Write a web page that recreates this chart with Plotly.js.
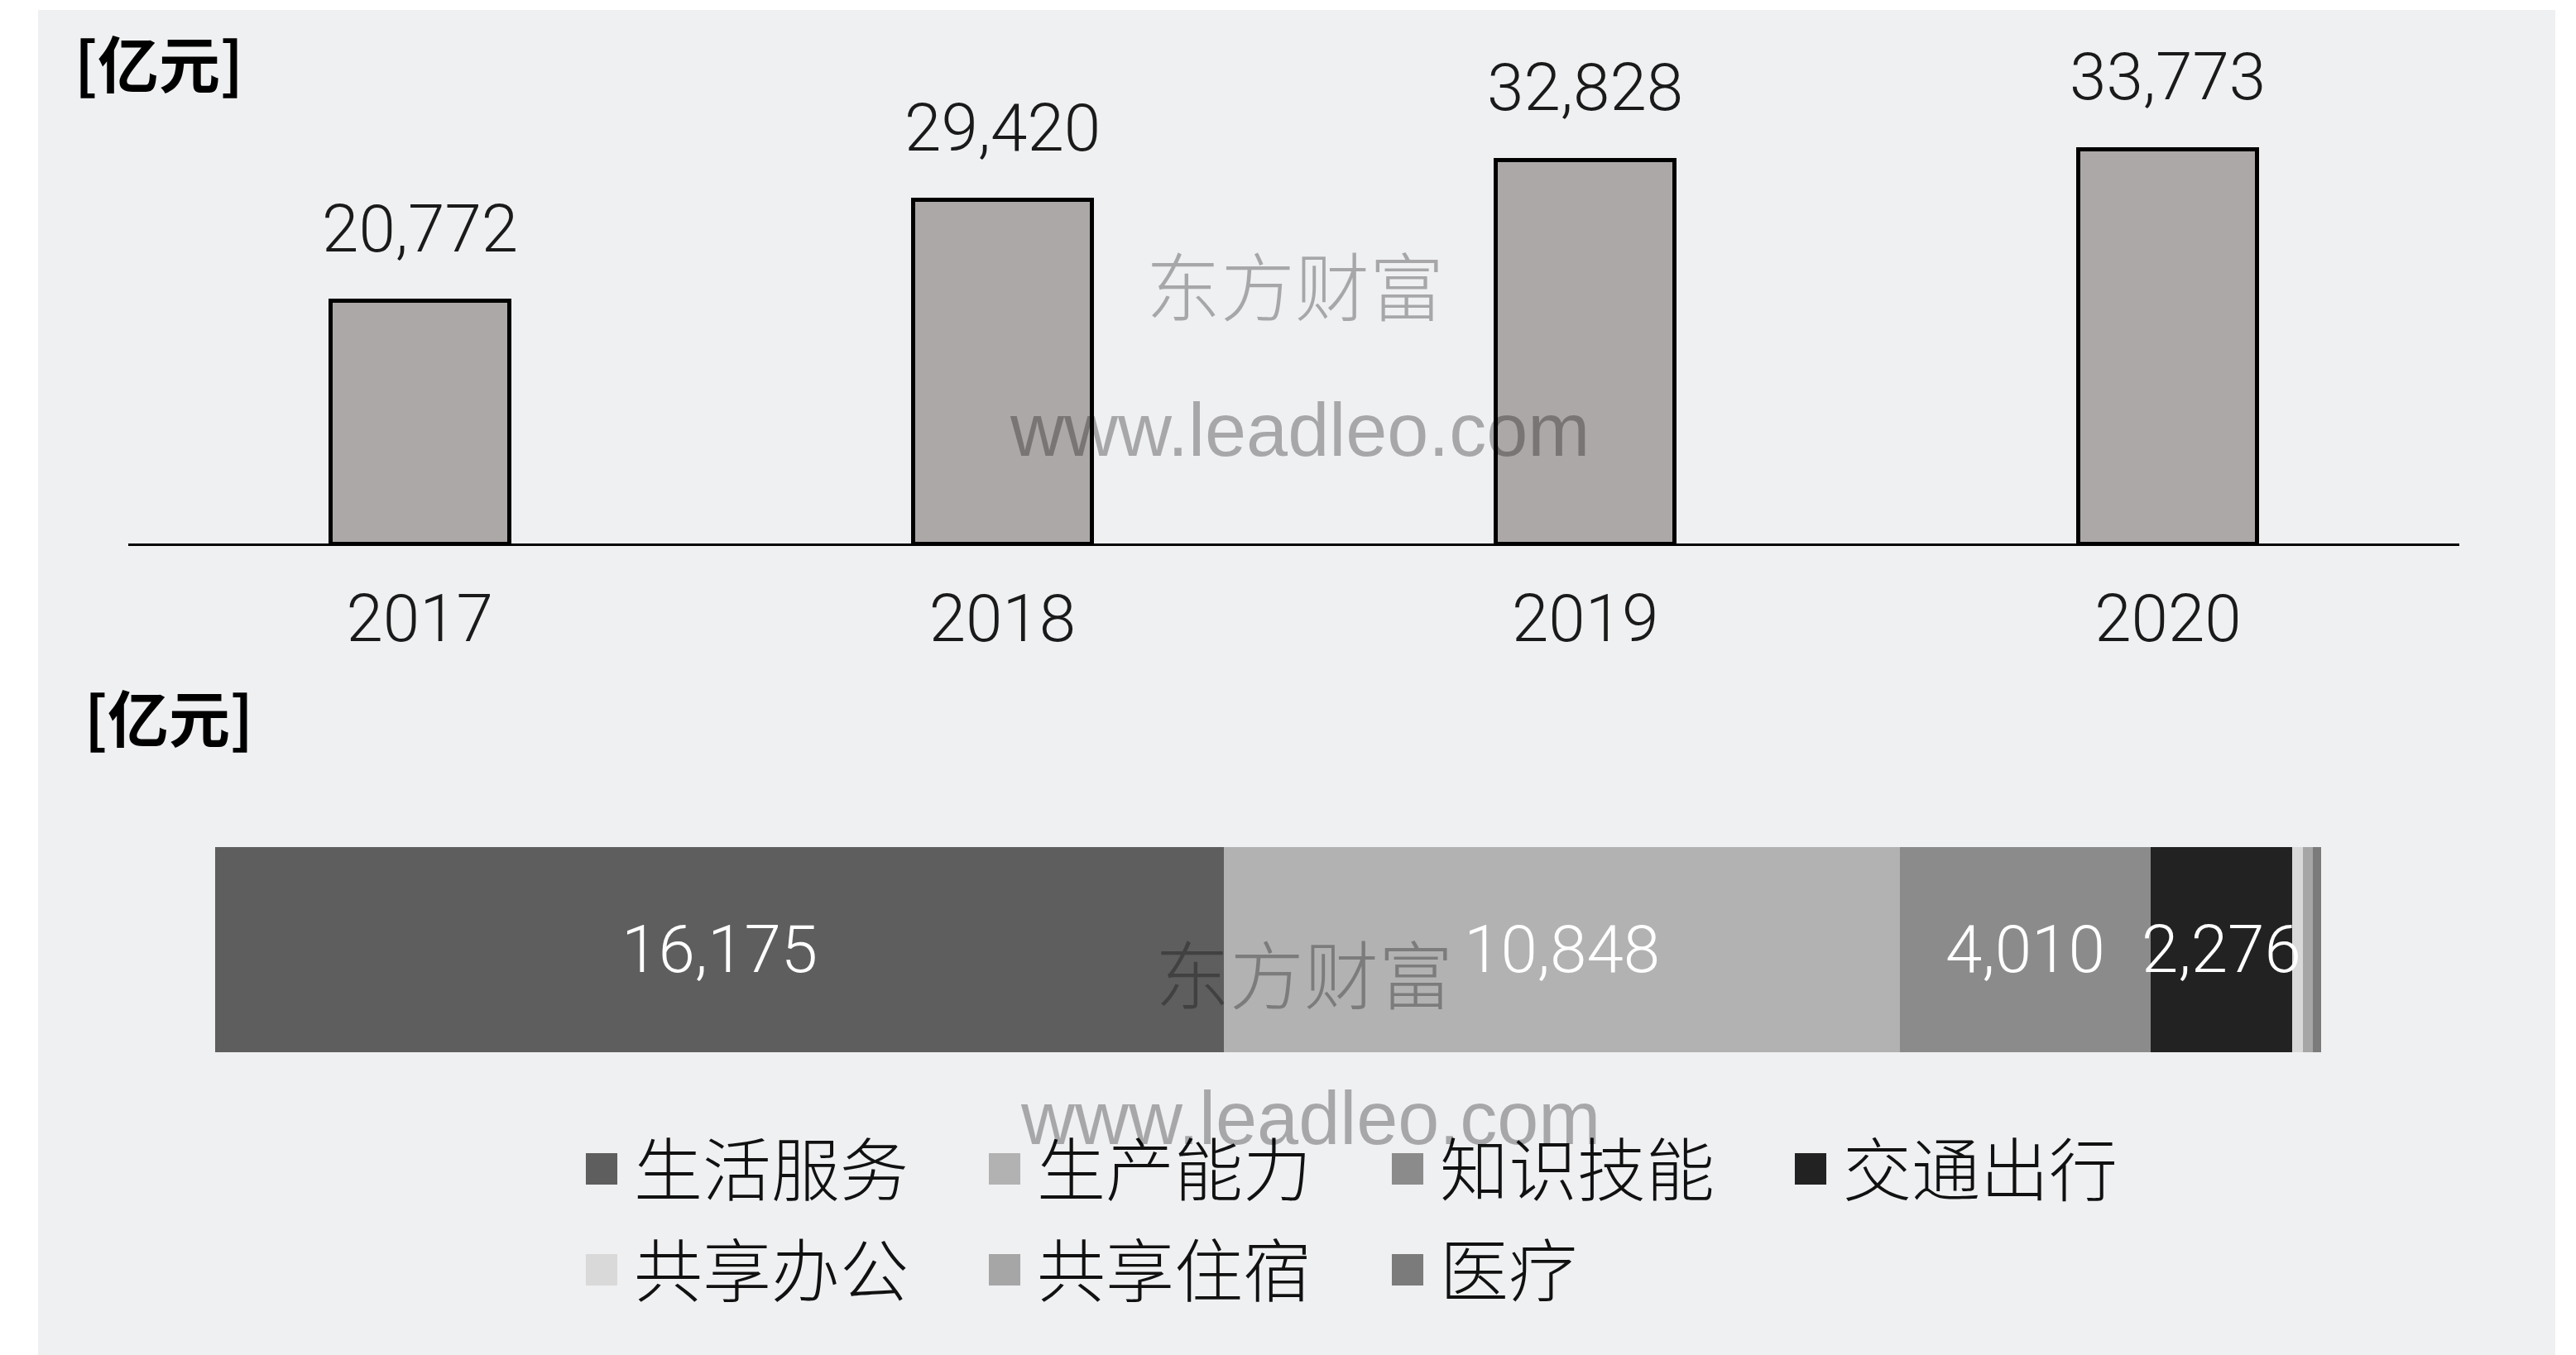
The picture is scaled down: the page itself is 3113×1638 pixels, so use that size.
<!DOCTYPE html>
<html>
<head>
<meta charset="utf-8">
<script src="https://cdn.plot.ly/plotly-3.0.1.min.js"></script>
<style>
html,body{margin:0;padding:0;background:#ffffff;}
#chart{width:3113px;height:1638px;}
</style>
</head>
<body>
<div id="chart"></div>
<script>
// ---------------- data ----------------
const years = ['2017', '2018', '2019', '2020'];
const marketTotals = [20772, 29420, 32828, 33773];
const sectors = ['生活服务', '生产能力', '知识技能', '交通出行', '共享办公', '共享住宿', '医疗'];
const sectorValues2020 = [16175, 10848, 4010, 2276, 168, 158, 138];
const sectorColors = ['#5e5e5e', '#b2b2b2', '#8b8b8b', '#222222', '#d9d9d9', '#a6a6a6', '#7b7b7b'];
const unitLabel = '[亿元]';
const watermarkCn = '东方财富';
const watermarkUrl = 'www.leadleo.com';

// ---------------- helpers ----------------
const W = 3113, H = 1638;
const px = v => v / W;
const py = v => 1 - v / H;
const fmt = v => v.toLocaleString('en-US');
const numFont = {family: 'Roboto, "Noto Sans", sans-serif', size: 80, color: '#1a1a1a', weight: 300};
const cjkFont = {family: '"Noto Sans CJK SC", sans-serif', size: 83, color: '#111111'};
const unitFont = {family: '"Noto Sans CJK SC", sans-serif', size: 74, color: '#000', weight: 700};

// ---------------- traces ----------------
const traces = [];
traces.push({
  type: 'bar', x: years, y: marketTotals, xaxis: 'x', yaxis: 'y',
  width: 0.307,
  marker: {color: '#aca8a7', line: {color: '#000000', width: 5}},
  showlegend: false, hoverinfo: 'skip'
});
sectors.forEach((name, i) => {
  traces.push({
    type: 'bar', orientation: 'h', name: name,
    x: [sectorValues2020[i]], y: [years[years.length - 1]],
    xaxis: 'x2', yaxis: 'y2', width: 1,
    marker: {color: sectorColors[i], line: {width: 0}},
    legend: i < 4 ? 'legend' : 'legend2',
    hoverinfo: 'skip'
  });
});

// ---------------- annotations ----------------
const annotations = [];
annotations.push({xref: 'paper', yref: 'paper', x: px(88), y: py(74), xanchor: 'left', yanchor: 'middle',
  text: unitLabel, showarrow: false, font: unitFont});
annotations.push({xref: 'paper', yref: 'paper', x: px(100), y: py(864), xanchor: 'left', yanchor: 'middle',
  text: unitLabel, showarrow: false, font: unitFont});

years.forEach((yr, i) => {
  annotations.push({xref: 'x', yref: 'y', x: i, y: marketTotals[i], xanchor: 'center', yanchor: 'bottom',
    yshift: 38, text: fmt(marketTotals[i]), showarrow: false, font: numFont});
});

let cum = 0;
sectorValues2020.forEach((v, i) => {
  if (v >= 1000) {
    annotations.push({xref: 'x2', yref: 'y2', x: cum + v / 2, y: 0, xanchor: 'center', yanchor: 'middle',
      text: fmt(v), showarrow: false, font: Object.assign({}, numFont, {color: '#ffffff'})});
  }
  cum += v;
});

// watermarks
const wmCn = {family: '"Noto Sans CJK SC", sans-serif', size: 90, color: 'rgba(0,0,0,0.3)'};
const wmUrl = {family: '"Liberation Sans", Arial, sans-serif', size: 90, color: 'rgba(0,0,0,0.3)'};
const wm = (x, y, text, font) => ({xref: 'paper', yref: 'paper', x: px(x), y: py(y),
  xanchor: 'center', yanchor: 'middle', text: text, showarrow: false, font: font});
annotations.push(wm(1565, 342, watermarkCn, wmCn));
annotations.push(wm(1570, 520, watermarkUrl, wmUrl));
annotations.push(wm(1576, 1174, watermarkCn, wmCn));
annotations.push(wm(1583, 1352, watermarkUrl, wmUrl));

// ---------------- layout ----------------
const legendBase = {
  orientation: 'h', xanchor: 'left', yanchor: 'middle',
  font: cjkFont, itemwidth: 68, entrywidth: 404, entrywidthmode: 'pixels',
  traceorder: 'normal', bgcolor: 'rgba(0,0,0,0)', borderwidth: 0,
  itemclick: false, itemdoubleclick: false
};

const layout = {
  width: W, height: H,
  margin: {l: 0, r: 0, t: 0, b: 0},
  paper_bgcolor: '#ffffff', plot_bgcolor: 'rgba(0,0,0,0)',
  barmode: 'stack', showlegend: true,
  font: numFont,
  xaxis: {
    domain: [px(155), px(2972)], range: [-0.5, 3.5], type: 'category',
    showline: true, linecolor: '#000000', linewidth: 3, ticks: '',
    showgrid: false, zeroline: false, tickfont: numFont, ticklabelstandoff: 19,
    fixedrange: true
  },
  yaxis: {domain: [py(657), py(20)], range: [0, 45110], visible: false, fixedrange: true},
  xaxis2: {domain: [px(260), px(2805)], range: [0, 33773], visible: false, anchor: 'y2', fixedrange: true},
  yaxis2: {domain: [py(1272), py(1024)], range: [-0.5, 0.5], visible: false, anchor: 'x2', type: 'category', fixedrange: true},
  legend: Object.assign({}, legendBase, {x: px(688), y: py(1413)}),
  legend2: Object.assign({}, legendBase, {x: px(688), y: py(1535)}),
  shapes: [{type: 'rect', xref: 'paper', yref: 'paper', x0: px(46), x1: px(3088), y0: 0, y1: py(12),
    fillcolor: '#eff0f2', line: {width: 0}, layer: 'below'}],
  annotations: annotations
};

Plotly.newPlot('chart', traces, layout, {staticPlot: true, displayModeBar: false}).then(gd => {
  gd.querySelectorAll('.legendpoints path').forEach(p => {
    const t = p.getAttribute('transform') || '';
    p.setAttribute('transform', t + ' scale(3.17)');
  });
});
</script>
</body>
</html>
